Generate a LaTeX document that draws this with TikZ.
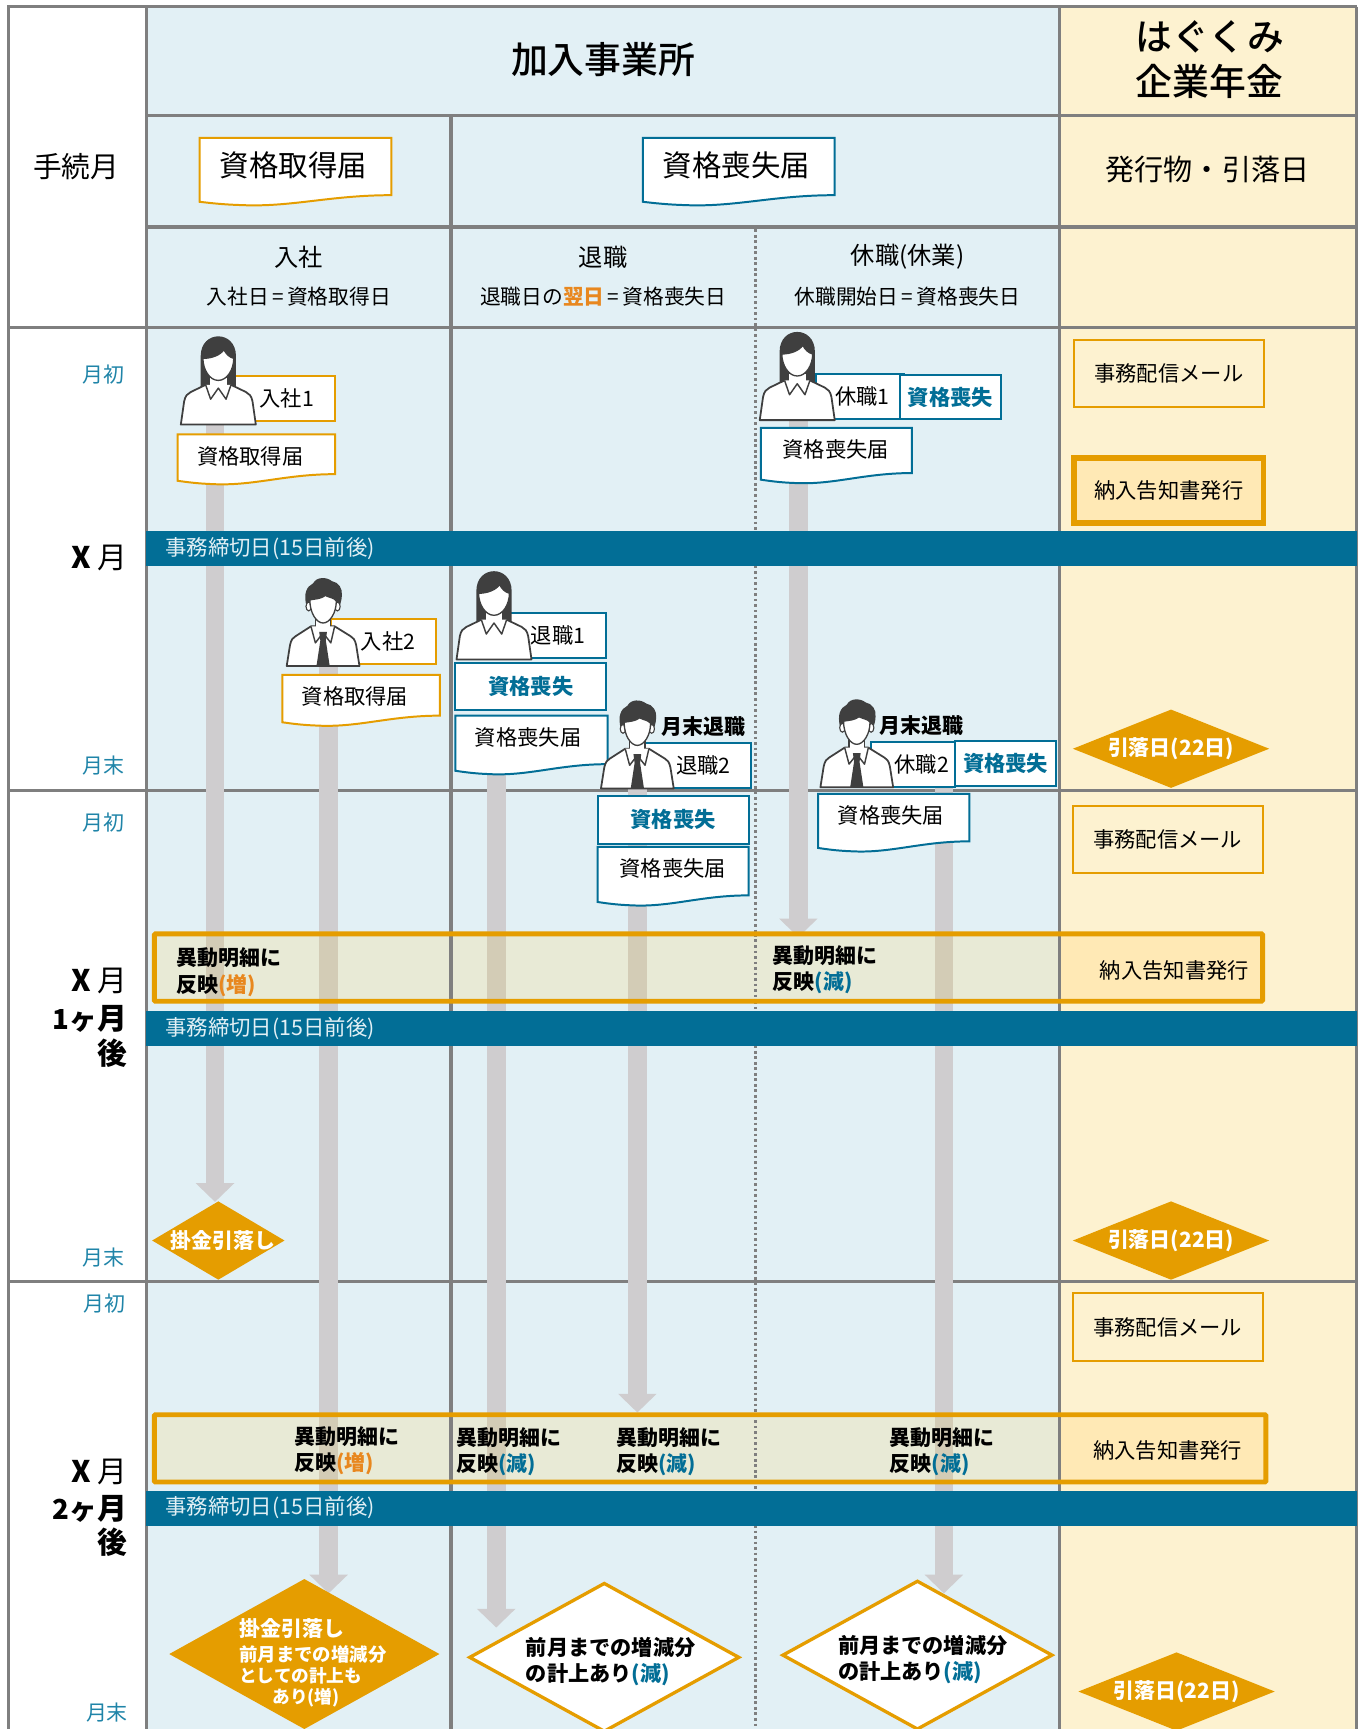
\documentclass[tikz,border=0pt]{standalone}
\usepackage{fontspec}
\setmainfont{Noto Sans CJK JP}
\newfontfamily\titlefont{Noto Sans CJK JP Medium}
\usetikzlibrary{arrows.meta,shapes.geometric}

\definecolor{gridgray}{HTML}{7F7F7F}
\definecolor{paleblue}{HTML}{E2F0F5}
\definecolor{palecream}{HTML}{FDF2D0}
\definecolor{barblue}{HTML}{026E96}
\definecolor{framegold}{HTML}{E59D00}
\definecolor{accent}{HTML}{E8871E}
\definecolor{monthblue}{HTML}{1F84A8}
\definecolor{flowgray}{HTML}{CFCDCF}
\definecolor{personink}{HTML}{3F3F3F}
\definecolor{noticefill}{HTML}{FFE9B5}
\definecolor{bandfill}{HTML}{E8EAD6}
\definecolor{bandflow}{HTML}{D3CCB6}

\newcommand{\eqsign}{\kern3pt=\kern3pt}

\tikzset{
	lab/.style={font=\fontsize{#1}{24}\selectfont, inner sep=0pt, outer sep=0pt},
	midlab/.style={font=\titlefont\fontsize{#1}{24}\selectfont, inner sep=0pt, outer sep=0pt},
	boldlab/.style={font=\fontsize{#1}{24}\selectfont\bfseries, inner sep=0pt, outer sep=0pt},
	gridline/.style={gridgray, line width=3pt},
	dotline/.style={gridgray, line width=2.4pt, dash pattern=on 2.4pt off 2.6pt},
	flowline/.style={flowgray, line width=17pt, -{Triangle[length=17pt,width=34pt]}},
	cutbar/.style={fill=barblue, draw=none},
	tagbox/.style={draw=#1, fill=white, line width=1.8pt, inner sep=0pt, outer sep=0pt, font=\fontsize{19.3}{24}\selectfont},
	notebox/.style={draw=framegold, line width=1.8pt, inner sep=0pt, outer sep=0pt, minimum width=172, minimum height=61, font=\fontsize{19.3}{24}\selectfont},
	paydiamond/.style={diamond, fill=framegold, inner sep=0pt, outer sep=0pt},
	opendiamond/.style={diamond, draw=framegold, fill=white, line width=3pt, inner sep=0pt, outer sep=0pt},
	woman/.pic={
		\fill[personink] (-16,-33) -- (-16,-62) .. controls (-16,-74) and (-8,-80) .. (0,-80) .. controls (8,-80) and (16,-74) .. (16,-62) -- (16,-33) -- cycle;
		\draw[personink, fill=white, line width=1.6pt, line join=round] (-34,0) -- (-31,-21) .. controls (-30,-26) and (-28,-28) .. (-25,-29.5) -- (-11.5,-36) -- (11.5,-36) -- (25,-29.5) .. controls (28,-28) and (30,-26) .. (31,-21) -- (34,0) -- cycle;
		\fill[white] (-7.5,-42) rectangle (7.5,-33);
		\draw[personink, fill=white, line width=1.2pt] (-14,-60) .. controls (-6,-60) and (2,-63) .. (5,-68) .. controls (7,-64) and (10,-61) .. (14,-60) .. controls (14,-50) and (8,-40) .. (0,-40) .. controls (-8,-40) and (-14,-50) .. (-14,-60) -- cycle;
		\draw[personink, fill=white, line width=1.3pt, line join=round] (-11.5,-36) -- (-7,-23) -- (0,-33) -- (7,-23) -- (11.5,-36);
	},
	man/.pic={
		\fill[personink] (-15,-54) .. controls (-18,-66) and (-15,-72) .. (-9,-75) .. controls (-6,-81) and (3,-81) .. (8,-77) .. controls (14,-76) and (18,-70) .. (17,-64) .. controls (17,-60) and (16,-58) .. (15,-54) -- cycle;
		\draw[personink, fill=white, line width=1.6pt, line join=round] (-33,0) -- (-30,-19) .. controls (-29,-24) and (-27,-26) .. (-25,-27) -- (-11,-36) -- (10.5,-36) -- (25,-27) .. controls (27,-26) and (29,-24) .. (30,-19) -- (33,0) -- cycle;
		\draw[personink, fill=white, line width=1.2pt] (-7,-44) rectangle (7,-33);
		\fill[white] (-6.4,-40) rectangle (6.4,-33);
		\draw[personink, fill=white, line width=1pt] (-13,-54) ellipse (2.5 and 4);
		\draw[personink, fill=white, line width=1pt] (13,-54) ellipse (2.5 and 4);
		\draw[personink, fill=white, line width=1.2pt] (-12,-60) .. controls (-6,-61) and (-2,-61) .. (2,-64) .. controls (6,-62) and (10,-62) .. (12,-59) .. controls (12,-48) and (6,-39) .. (0,-39) .. controls (-6,-39) and (-12,-48) .. (-12,-60) -- cycle;
		\draw[personink, fill=white, line width=1.3pt, line join=round] (-11,-36) -- (-7,-21) -- (0,-30) -- (7,-21) -- (10.5,-36);
		\fill[personink] (-3.5,-31) -- (3.5,-31) -- (2.5,-23) -- (6,0) -- (-6,0) -- (-2.5,-23) -- cycle;
	},
}

% form sheet with a wavy lower edge: name, colour, x, y, width, height, font size, text position, text
\newcommand{\formsheet}[9]{
	\begin{scope}[shift={(#3,#4)}]
		\draw[#2, fill=white, line width=1.8pt] (0,0) -- (#5,0) -- (#5,#6-6)
			.. controls (#5*0.68,#6-6) and (#5*0.48,#6+5) .. (#5*0.22,#6+3)
			.. controls (#5*0.12,#6+2.5) and (#5*0.05,#6+1) .. (0,#6) -- cycle;
		\node[lab=#7] (#1) at (#8) {#9};
	\end{scope}
}

\begin{document}
\begin{tikzpicture}[x=1pt,y=-1pt]
	\useasboundingbox (0,0) rectangle (1231,1568);

	% Background columns
	\fill[paleblue] (133,6) rectangle (961,1568);
	\fill[palecream] (961,6) rectangle (1231,1568);

	% Grid
	\draw[gridline] (8,1568) -- (8,6) -- (1231,6);
	\draw[gridline] (133,6) -- (133,1568);
	\draw[gridline] (961,6) -- (961,1568);
	\draw[gridline] (409,105) -- (409,1568);
	\draw[dotline] (685,208) -- (685,1568);
	\draw[gridline] (133,105) -- (1231,105);
	\draw[gridline] (133,206) -- (1231,206);
	\draw[gridline] (8,297) -- (1231,297);
	\draw[gridline] (8,717) -- (1231,717);
	\draw[gridline] (8,1162) -- (1231,1162);
	\draw[gridline] (1230,6) -- (1230,1568);

	% Flow arrows
	\coordinate (nyusha1from) at (195,380);
	\coordinate (nyusha1to) at (195,1090);
	\coordinate (nyusha2from) at (298,600);
	\coordinate (nyusha2to) at (298,1445);
	\coordinate (taishoku1from) at (450,690);
	\coordinate (taishoku1to) at (450,1476);
	\coordinate (taishoku2from) at (578,712);
	\coordinate (taishoku2to) at (578,1281);
	\coordinate (kyushoku1from) at (724,380);
	\coordinate (kyushoku1to) at (724,850);
	\coordinate (kyushoku2from) at (856,712);
	\coordinate (kyushoku2to) at (856,1445);
	\draw[flowline] (nyusha1from) -- (nyusha1to);
	\draw[flowline] (nyusha2from) -- (nyusha2to);
	\draw[flowline] (taishoku1from) -- (taishoku1to);
	\draw[flowline] (taishoku2from) -- (taishoku2to);
	\draw[flowline] (kyushoku1from) -- (kyushoku1to);
	\draw[flowline] (kyushoku2from) -- (kyushoku2to);

	% Closing bars
	\foreach \bartop/\barname in {482/cutx,917/cuty,1352/cutz}{
		\fill[cutbar] (132,\bartop) rectangle (1231,\bartop+31.5);
		\node[lab=19.4, text=paleblue, anchor=west] (\barname) at (150,\bartop+15.5) {事務締切日(15日前後)};
	}

	% Heads
	\node[midlab=33.4] (jigyosho) at (547,54) {加入事業所};
	\node[midlab=33.4] (hagukumi) at (1097,33) {はぐくみ};
	\node[midlab=33.4] (nenkin) at (1097,74) {企業年金};
	\node[lab=26] (tetsuzuki) at (69,151) {手続月};
	\node[lab=26.4] (hakko) at (1095,154) {発行物・引落日};
	\formsheet{shutoku}{framegold}{181}{125}{174}{58}{26.7}{85,25}{資格取得届}
	\formsheet{soshitsu}{barblue}{583}{125}{174}{58}{26.7}{85,25}{資格喪失届}
	\node[lab=22] (nyusha) at (271,233) {入社};
	\node[lab=22] (taishoku) at (547,233) {退職};
	\node[lab=22] (kyushoku) at (823,233) {休職(休業)};
	\node[lab=18.8] (nyushabi) at (271,269) {入社日\eqsign 資格取得日};
	\node[lab=18.8] (taishokubi) at (547,269) {退職日の\textcolor{accent}{\bfseries 翌日}\eqsign 資格喪失日};
	\node[lab=18.8] (kyushokubi) at (823,269) {休職開始日\eqsign 資格喪失日};

	% Months
	\node[lab=19, text=monthblue] (gessho1) at (94,340) {月初};
	\node[lab=19, text=monthblue] (getsumatsu1) at (94,694) {月末};
	\node[lab=19, text=monthblue] (gessho2) at (94,746) {月初};
	\node[lab=19, text=monthblue] (getsumatsu2) at (94,1140) {月末};
	\node[lab=19, text=monthblue] (gessho3) at (95,1182) {月初};
	\node[lab=19, text=monthblue] (getsumatsu3) at (97,1553) {月末};
	\node[lab=27] (monthx) at (90,506) {\textbf{X} 月};
	\node[lab=27] (monthy) at (90,890) {\textbf{X} 月};
	\node[boldlab=27, anchor=east] (monthya) at (115,924) {{\fontsize{25}{24}\selectfont 1ヶ}月};
	\node[boldlab=27, anchor=east] (monthyb) at (115,955) {後};
	\node[lab=27] (monthz) at (90,1335) {\textbf{X} 月};
	\node[boldlab=27, anchor=east] (monthza) at (115,1368) {{\fontsize{25}{24}\selectfont 2ヶ}月};
	\node[boldlab=27, anchor=east] (monthzb) at (115,1399) {後};

	% Joining, first person
	\node[tagbox=framegold, minimum width=99, minimum height=41] (nyusha1) at (254.5,361.5) {\hspace*{11pt}入社1};
	\pic at (198,385) {woman};
	\formsheet{nyusha1form}{framegold}{161}{394}{143}{42}{19.3}{66,19.5}{資格取得届}

	% Joining, second person
	\node[tagbox=framegold, minimum width=95, minimum height=41] (nyusha2) at (347.5,581.5) {\hspace*{9pt}入社2};
	\pic at (293,604) {man};
	\formsheet{nyusha2form}{framegold}{256}{612}{143}{43}{19.3}{66,20}{資格取得届}

	% Leaving, first person
	\node[tagbox=barblue, minimum width=95, minimum height=41] (taishoku1) at (502.5,576.5) {\hspace*{7pt}退職1};
	\pic at (448,598) {woman};
	\node[tagbox=barblue, minimum width=137, minimum height=42] (taishoku1lost) at (481.5,622.5) {\textcolor{barblue}{\bfseries 資格喪失}};
	\formsheet{taishoku1form}{barblue}{413}{649}{138}{50}{19.3}{66,19.5}{資格喪失届}

	% Leaving, second person
	\node[tagbox=barblue, minimum width=96, minimum height=41] (taishoku2) at (633,694.5) {\hspace*{10pt}退職2};
	\pic at (578,715) {man};
	\node[boldlab=19] (matsu1) at (638,659) {月末退職};
	\node[tagbox=barblue, minimum width=137, minimum height=43] (taishoku2lost) at (610.5,743.5) {\textcolor{barblue}{\bfseries 資格喪失}};
	\formsheet{taishoku2form}{barblue}{542}{768}{137}{50}{19.3}{68,20}{資格喪失届}

	% Leave of absence, first person
	\node[tagbox=barblue, minimum width=80, minimum height=41] (kyushoku1) at (780,359.5) {\hspace*{4pt}休職1};
	\node[tagbox=barblue, minimum width=92, minimum height=40] (kyushoku1lost) at (862,360) {\textcolor{barblue}{\bfseries 資格喪失}};
	\pic at (723,381) {woman};
	\formsheet{kyushoku1form}{barblue}{690}{388}{137}{47}{19.3}{68,19.5}{資格喪失届}

	% Leave of absence, second person
	\node[tagbox=barblue, minimum width=76, minimum height=41] (kyushoku2) at (828,693.5) {\hspace*{16pt}休職2};
	\node[tagbox=barblue, minimum width=92, minimum height=41] (kyushoku2lost) at (912,692.5) {\textcolor{barblue}{\bfseries 資格喪失}};
	\pic at (777,714) {man};
	\node[boldlab=19] (matsu2) at (836,658) {月末退職};
	\formsheet{kyushoku2form}{barblue}{742}{720}{137}{49}{19.3}{66,19.5}{資格喪失届}

	% Issued items
	\node[notebox] (mail1) at (1060,338.5) {事務配信メール};
	\node[notebox] (mail2) at (1059,761.5) {事務配信メール};
	\node[notebox] (mail3) at (1059,1203.5) {事務配信メール};
	\node[notebox, fill=noticefill, line width=5pt, minimum height=59] (notice1) at (1060,445) {納入告知書発行};
	\foreach \daybox/\dayx/\dayy in {pay1/1062/679,pay2/1062/1125,pay3/1067/1534}{
		\node[paydiamond, minimum width=178, minimum height=71] (\daybox) at (\dayx,\dayy) {};
		\node[boldlab=19, text=white] at (\daybox) {引落日(22日)};
	}

	% Reflected bands
	\foreach \bandtop/\bandright in {847/1145,1283/1148}{
		\fill[bandfill] (140,\bandtop) rectangle (961,\bandtop+61);
		\fill[noticefill] (961,\bandtop) rectangle (\bandright,\bandtop+61);
		\draw[gridline] (409,\bandtop) -- (409,\bandtop+61);
		\draw[gridline] (961,\bandtop) -- (961,\bandtop+61);
		\draw[dotline] (685,\bandtop) -- (685,\bandtop+61);
	}
	\foreach \flowx in {195,298,450,578,856}
		\fill[bandflow] (\flowx-8.5,847) rectangle (\flowx+8.5,908);
	\foreach \flowx in {298,450,856}
		\fill[bandflow] (\flowx-8.5,1283) rectangle (\flowx+8.5,1344);
	\draw[framegold, line width=4.5pt, rounded corners=1pt] (140,847) rectangle (1145,908);
	\draw[framegold, line width=4.5pt, rounded corners=1pt] (140,1283) rectangle (1148,1344);
	\node[lab=19.3] (notice2) at (1065,880) {納入告知書発行};
	\node[lab=19.3] (notice3) at (1059,1315) {納入告知書発行};
	\node[boldlab=19, anchor=west, align=left] (ido1) at (160,881.5) {異動明細に\\反映\textcolor{accent}{(増)}};
	\node[boldlab=19, anchor=west, align=left] (ido2) at (701,879.5) {異動明細に\\反映\textcolor{barblue}{(減)}};
	\node[boldlab=19, anchor=west, align=left] (ido3) at (267,1315.5) {異動明細に\\反映\textcolor{accent}{(増)}};
	\node[boldlab=19, anchor=west, align=left] (ido4) at (414,1316.5) {異動明細に\\反映\textcolor{barblue}{(減)}};
	\node[boldlab=19, anchor=west, align=left] (ido5) at (559,1316.5) {異動明細に\\反映\textcolor{barblue}{(減)}};
	\node[boldlab=19, anchor=west, align=left] (ido6) at (807,1316.5) {異動明細に\\反映\textcolor{barblue}{(減)}};

	% Payment diamonds
	\node[paydiamond, minimum width=120, minimum height=71] (kakekin1) at (198,1125) {};
	\node[boldlab=19, text=white] (kakekin1text) at (202,1125) {掛金引落し};
	\node[paydiamond, minimum width=245, minimum height=136] (kakekin2) at (276,1500) {};
	\node[boldlab=19, anchor=west, text=white] (kakekin2a) at (217,1477) {掛金引落し};
	\node[boldlab=16.7, anchor=west, text=white] (kakekin2b) at (217,1500) {前月までの増減分};
	\node[boldlab=16, anchor=west, text=white] (kakekin2c) at (217,1520) {としての計上も};
	\node[boldlab=16, anchor=west, text=white] (kakekin2d) at (247,1540) {あり(増)};
	\node[opendiamond, minimum width=244, minimum height=134] (zengetsu1) at (548,1503) {};
	\node[boldlab=19.2, anchor=west, align=left] (zengetsu1text) at (477,1507) {前月までの増減分\\の計上あり\textcolor{barblue}{(減)}};
	\node[opendiamond, minimum width=244, minimum height=134] (zengetsu2) at (832,1501) {};
	\node[boldlab=19.2, anchor=west, align=left] (zengetsu2text) at (760,1505) {前月までの増減分\\の計上あり\textcolor{barblue}{(減)}};

\end{tikzpicture}
\end{document}
